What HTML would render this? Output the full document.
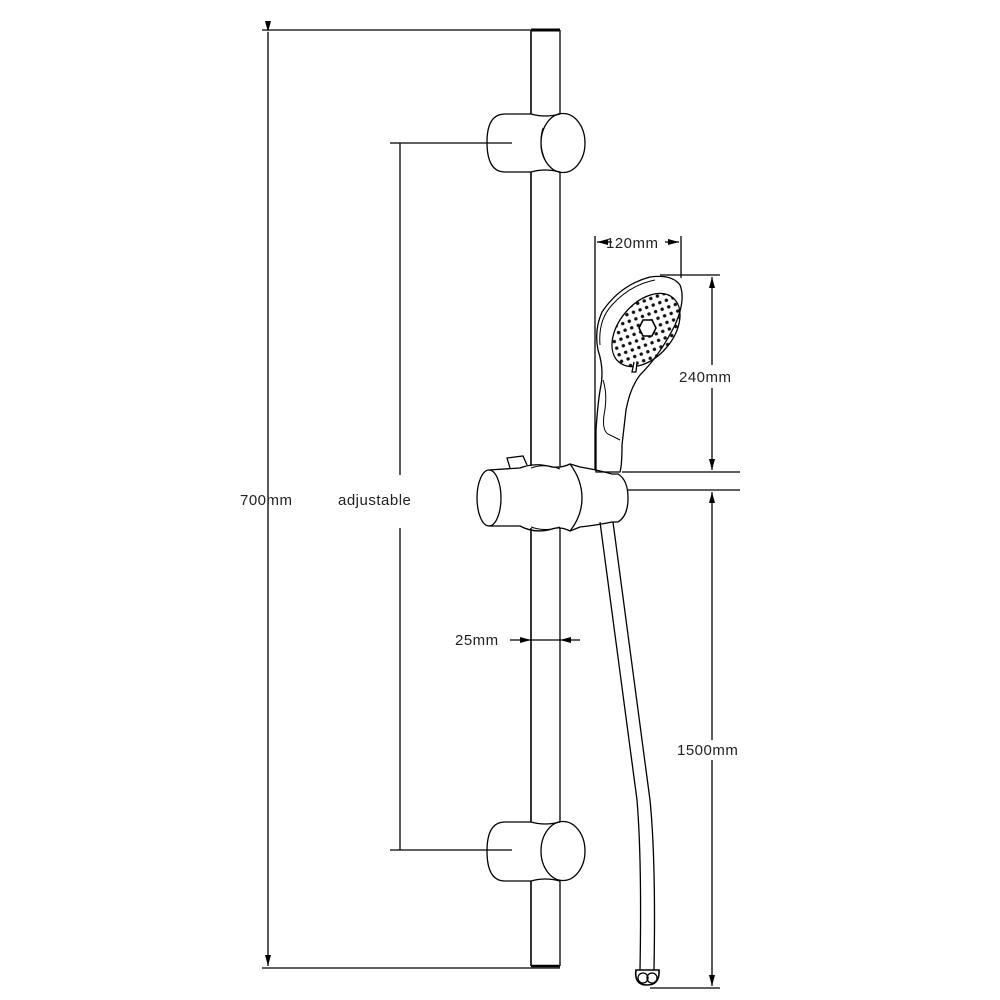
<!DOCTYPE html>
<html><head><meta charset="utf-8"><style>
html,body{margin:0;padding:0;background:#fff;}
svg{display:block}
text{font-family:"Liberation Sans",sans-serif;font-size:15px;fill:#222;letter-spacing:0.5px}
</style></head><body>
<svg width="1000" height="1000" viewBox="0 0 1000 1000" xmlns="http://www.w3.org/2000/svg">
<defs>
<marker id="a" markerWidth="12" markerHeight="8" refX="11" refY="4" orient="auto" markerUnits="userSpaceOnUse">
<path d="M0,1 L11,4 L0,7 Z" fill="#000"/></marker>
<pattern id="dots" width="7" height="7" patternUnits="userSpaceOnUse" patternTransform="rotate(30)">
<circle cx="3.5" cy="3.5" r="1.7" fill="#111"/></pattern>
</defs>
<g fill="none" stroke="#000" stroke-width="1.3">
<!-- 700mm dim -->
<line x1="262" y1="30" x2="532" y2="30"/>
<line x1="262" y1="968" x2="560" y2="968"/>
<line x1="268" y1="32" x2="268" y2="966" marker-start="url(#a)" marker-end="url(#a)"/>
<!-- adjustable dim -->
<line x1="390" y1="143" x2="512" y2="143"/>
<line x1="390" y1="850" x2="512" y2="850"/>
<line x1="400" y1="143" x2="400" y2="475"/>
<line x1="400" y1="528" x2="400" y2="850"/>
<!-- rail -->
<line x1="531" y1="30" x2="531" y2="114" stroke-width="1.6"/>
<line x1="560" y1="30" x2="560" y2="114"/>
<line x1="531" y1="30" x2="560" y2="30" stroke-width="3"/>
<line x1="531" y1="172" x2="531" y2="466" stroke-width="1.6"/>
<line x1="560" y1="172" x2="560" y2="466"/>
<line x1="531" y1="528" x2="531" y2="822" stroke-width="1.6"/>
<line x1="560" y1="528" x2="560" y2="822"/>
<line x1="531" y1="881" x2="531" y2="966" stroke-width="1.6"/>
<line x1="560" y1="881" x2="560" y2="966"/>
<line x1="531" y1="966" x2="560" y2="966" stroke-width="2.5"/>
<!-- top bracket -->
<path d="M531,114 L505,114 Q487,114 487,142 Q487,172 505,172 L531,172 M531,114 Q545,118 560,114 M531,172 Q545,168 560,172"/>
<ellipse cx="563" cy="143" rx="22" ry="29.5"/>
<path d="M543,128 Q538,143 545,160" stroke-width="1"/>
<!-- bottom bracket -->
<path d="M531,822 L505,822 Q487,822 487,851 Q487,881 505,881 L531,881 M531,822 Q545,826 560,822 M531,881 Q545,877 560,881"/>
<ellipse cx="563" cy="851" rx="22" ry="29.5"/>
<!-- 25mm -->
<line x1="510" y1="640" x2="531" y2="640" marker-end="url(#a)"/>
<line x1="580" y1="640" x2="560" y2="640" marker-end="url(#a)"/>
<line x1="531" y1="640" x2="560" y2="640"/>
<!-- slide bracket -->
<ellipse cx="489" cy="498" rx="12" ry="28"/>
<path d="M489,470 L520,468 Q535,462 552,467 Q562,468 570,464 L580,467 Q598,470 612,474 L618,474 Q628,480 628,498 Q628,516 618,522 L612,522 Q598,525 580,527 L570,531 Q560,526 552,529 Q535,534 520,526 L489,526"/>
<path d="M531,468 Q545,463 560,469 M531,527 Q545,532 560,527" stroke-width="1"/>
<path d="M570,464 Q582,480 582,498 Q582,516 570,531"/>
<path d="M510,468 L507,458 L523,456 L527,465"/>
<!-- hand shower -->
<path d="M596,472 L596,430 Q598,400 601,385 Q604,368 598,350 Q594,330 602,312 Q620,285 650,277 Q672,274 680,285 Q686,300 675,325 Q660,355 640,375 Q630,388 626,410 L622,445 Q622,465 620,472 Z"/>
<path d="M600,345 Q598,320 612,305 Q630,285 655,280" stroke-width="1"/>
<path d="M603,380 Q608,395 604,415 Q602,430 608,434 L620,440" stroke-width="1"/>
<ellipse cx="646" cy="330" rx="27" ry="42" transform="rotate(40 646 330)" fill="url(#dots)"/>
<path d="M634,362 L632,372 L636,372 L637,362" fill="#fff"/>
<path d="M643,320 L652,320 L656,328 L652,336 L643,336 L639,328 Z" fill="#fff" stroke-width="1.6"/>
<!-- hose -->
<path d="M600,522 L637,800 Q642,860 640,970"/>
<path d="M613,522 L650,800 Q656,860 654,970"/>
<path d="M636,970 Q634,985 647,985 Q660,985 659,970 Z" stroke-width="1.6"/>
<circle cx="643" cy="978" r="5"/><circle cx="652" cy="978" r="5"/>
<!-- 120mm -->
<line x1="595" y1="236" x2="595" y2="470"/>
<line x1="681" y1="236" x2="681" y2="278"/>
<line x1="612" y1="242" x2="597" y2="242" marker-end="url(#a)"/>
<line x1="665" y1="242" x2="679" y2="242" marker-end="url(#a)"/>
<!-- 240mm -->
<line x1="660" y1="275" x2="720" y2="275"/>
<line x1="622" y1="472" x2="740" y2="472"/>
<line x1="712" y1="365" x2="712" y2="277" marker-end="url(#a)"/>
<line x1="712" y1="388" x2="712" y2="470" marker-end="url(#a)"/>
<!-- 1500mm -->
<line x1="628" y1="490" x2="740" y2="490"/>
<line x1="650" y1="988" x2="720" y2="988"/>
<line x1="712" y1="740" x2="712" y2="492" marker-end="url(#a)"/>
<line x1="712" y1="760" x2="712" y2="986" marker-end="url(#a)"/>
</g>
<text x="240" y="505">700mm</text>
<text x="338" y="505">adjustable</text>
<text x="455" y="645">25mm</text>
<text x="606" y="248">120mm</text>
<text x="679" y="382">240mm</text>
<text x="677" y="755">1500mm</text>
</svg>
</body></html>
